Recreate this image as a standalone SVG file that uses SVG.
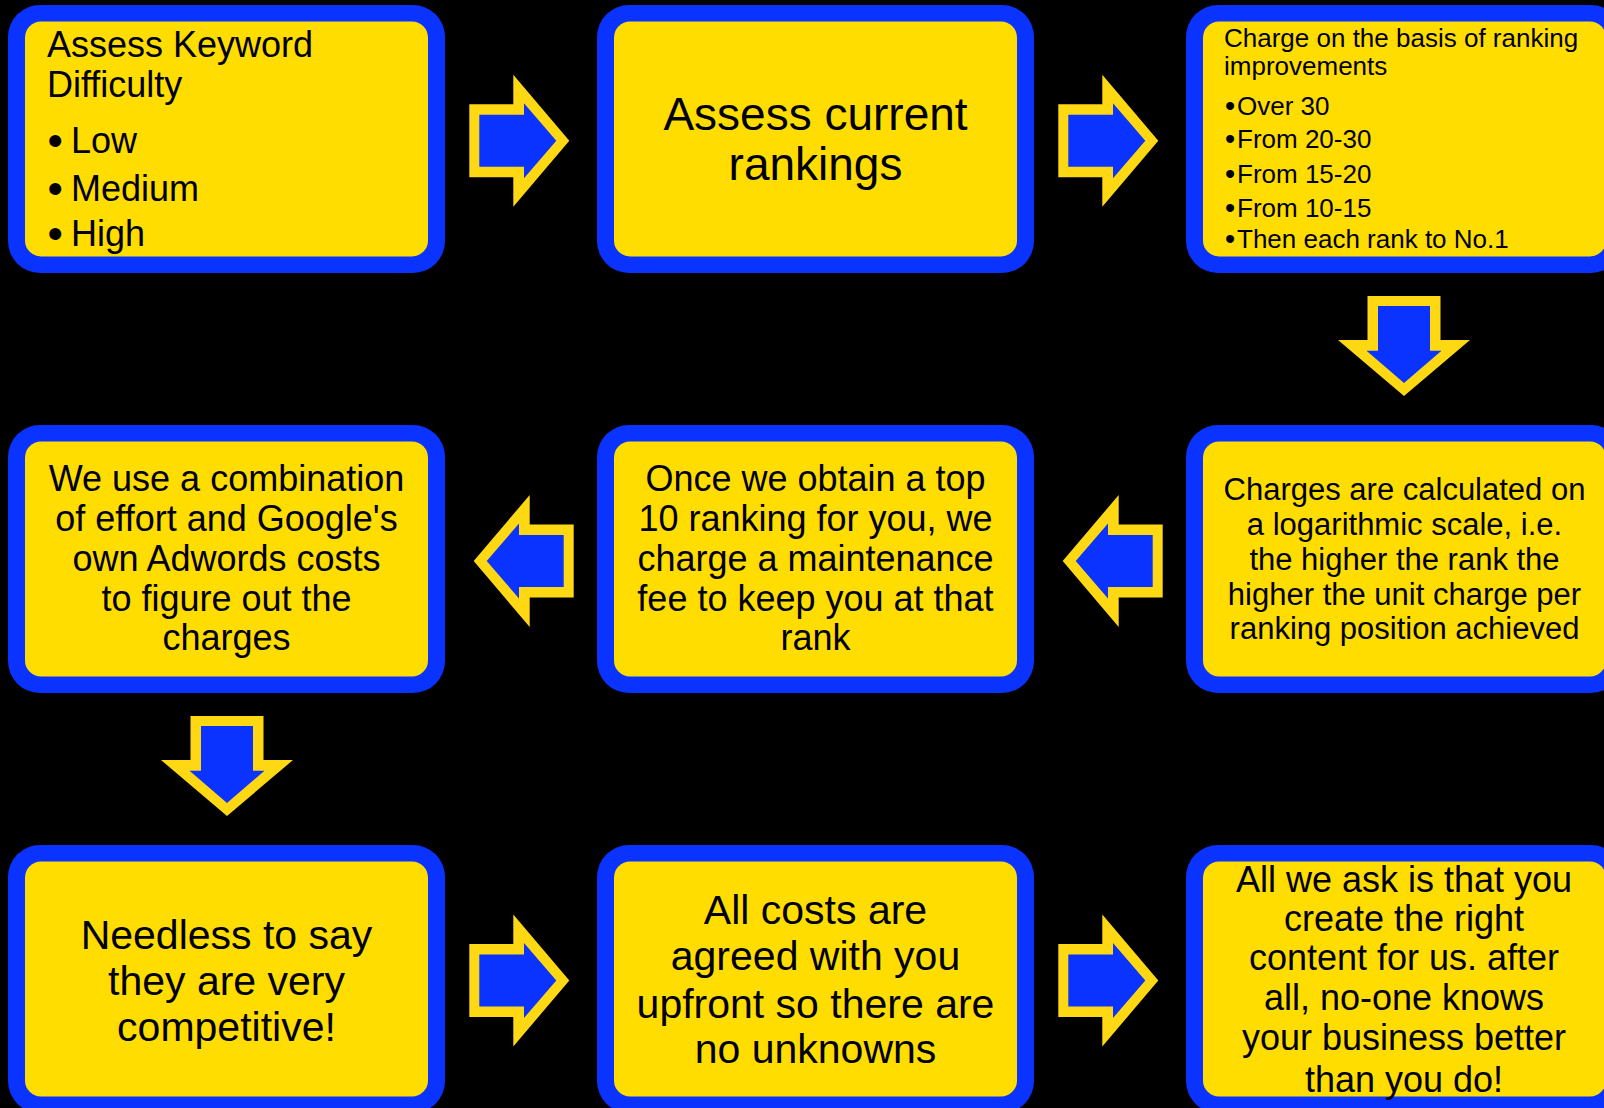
<svg xmlns="http://www.w3.org/2000/svg" xmlns:xlink="http://www.w3.org/1999/xlink" width="1604" height="1108" viewBox="0 0 1604 1108">
<style>
.outer{fill:#0B33FF}
.inner{fill:#FFDD00}
.t{font-family:"Liberation Sans",Arial,Helvetica,sans-serif;fill:#000}
.c{text-anchor:middle}
.ay{fill:#FFD814}
.ab{fill:#0B33FF}
</style>
<defs>
<g id="arrowR">
<polygon class="ay" points="0,-36.5 44,-36.5 44,-66 100,0 44,66 44,36.5 0,36.5"/>
<polygon class="ab" points="10,-26 54.7,-26 54.7,-37.5 87,0 54.7,37.5 54.7,26 10,26"/>
</g>
</defs>
<rect x="0" y="0" width="1604" height="1108" fill="#000"/>

<g id="node-keyword">
<rect class="outer" x="8" y="5" width="437" height="268" rx="32"/>
<rect class="inner" x="25" y="21.5" width="403" height="235" rx="16"/>
<text class="t" x="47" y="57" font-size="36">Assess Keyword</text>
<text class="t" x="47" y="97" font-size="36">Difficulty</text>
<text class="t" x="47.5" y="153" font-size="36"><tspan font-size="44" dy="3">•</tspan><tspan x="71" dy="-3">Low</tspan></text>
<text class="t" x="47.5" y="201" font-size="36"><tspan font-size="44" dy="3">•</tspan><tspan x="71" dy="-3">Medium</tspan></text>
<text class="t" x="47.5" y="246" font-size="36"><tspan font-size="44" dy="3">•</tspan><tspan x="71" dy="-3">High</tspan></text>
</g>

<g id="node-current">
<rect class="outer" x="597" y="5" width="437" height="268" rx="32"/>
<rect class="inner" x="614" y="21.5" width="403" height="235" rx="16"/>
<text class="t c" x="815.5" y="129.5" font-size="46">Assess current</text>
<text class="t c" x="815.5" y="180" font-size="46">rankings</text>
</g>

<g id="node-charge">
<rect class="outer" x="1186" y="5" width="437" height="268" rx="32"/>
<rect class="inner" x="1203" y="21.5" width="403" height="235" rx="16"/>
<text class="t" x="1224" y="47" font-size="26">Charge on the basis of ranking</text>
<text class="t" x="1224" y="75" font-size="26">improvements</text>
<text class="t" x="1225" y="115" font-size="26"><tspan font-size="29" dy="1">•</tspan><tspan x="1237" dy="-1">Over 30</tspan></text>
<text class="t" x="1225" y="147.7" font-size="26"><tspan font-size="29" dy="1">•</tspan><tspan x="1237" dy="-1">From 20-30</tspan></text>
<text class="t" x="1225" y="182.7" font-size="26"><tspan font-size="29" dy="1">•</tspan><tspan x="1237" dy="-1">From 15-20</tspan></text>
<text class="t" x="1225" y="216.7" font-size="26"><tspan font-size="29" dy="1">•</tspan><tspan x="1237" dy="-1">From 10-15</tspan></text>
<text class="t" x="1225" y="248.3" font-size="26"><tspan font-size="29" dy="1">•</tspan><tspan x="1237" dy="-1">Then each rank to No.1</tspan></text>
</g>

<g id="node-logarithmic">
<rect class="outer" x="1186" y="425" width="437" height="268" rx="32"/>
<rect class="inner" x="1203" y="441.5" width="403" height="235" rx="16"/>
<text class="t c" x="1404.5" y="500" font-size="31">Charges are calculated on</text>
<text class="t c" x="1404.5" y="535" font-size="31">a logarithmic scale, i.e.</text>
<text class="t c" x="1404.5" y="570" font-size="31">the higher the rank the</text>
<text class="t c" x="1404.5" y="605" font-size="31">higher the unit charge per</text>
<text class="t c" x="1404.5" y="639" font-size="31">ranking position achieved</text>
</g>

<g id="node-maintenance">
<rect class="outer" x="597" y="425" width="437" height="268" rx="32"/>
<rect class="inner" x="614" y="441.5" width="403" height="235" rx="16"/>
<text class="t c" x="815.5" y="491" font-size="36">Once we obtain a top</text>
<text class="t c" x="815.5" y="531" font-size="36">10 ranking for you, we</text>
<text class="t c" x="815.5" y="571" font-size="36">charge a maintenance</text>
<text class="t c" x="815.5" y="610.5" font-size="36">fee to keep you at that</text>
<text class="t c" x="815.5" y="650" font-size="36">rank</text>
</g>

<g id="node-combination">
<rect class="outer" x="8" y="425" width="437" height="268" rx="32"/>
<rect class="inner" x="25" y="441.5" width="403" height="235" rx="16"/>
<text class="t c" x="226.5" y="491" font-size="36">We use a combination</text>
<text class="t c" x="226.5" y="531" font-size="36">of effort and Google's</text>
<text class="t c" x="226.5" y="571" font-size="36">own Adwords costs</text>
<text class="t c" x="226.5" y="610.5" font-size="36">to figure out the</text>
<text class="t c" x="226.5" y="650" font-size="36">charges</text>
</g>

<g id="node-competitive">
<rect class="outer" x="8" y="845" width="437" height="268" rx="32"/>
<rect class="inner" x="25" y="861.5" width="403" height="235" rx="16"/>
<text class="t c" x="226.5" y="949" font-size="41">Needless to say</text>
<text class="t c" x="226.5" y="994.5" font-size="41">they are very</text>
<text class="t c" x="226.5" y="1040.5" font-size="41">competitive!</text>
</g>

<g id="node-costs">
<rect class="outer" x="597" y="845" width="437" height="268" rx="32"/>
<rect class="inner" x="614" y="861.5" width="403" height="235" rx="16"/>
<text class="t c" x="815.5" y="924.3" font-size="41">All costs are</text>
<text class="t c" x="815.5" y="970.3" font-size="41">agreed with you</text>
<text class="t c" x="815.5" y="1017.5" font-size="41">upfront so there are</text>
<text class="t c" x="815.5" y="1063.3" font-size="41">no unknowns</text>
</g>

<g id="node-content">
<rect class="outer" x="1186" y="845" width="437" height="268" rx="32"/>
<rect class="inner" x="1203" y="861.5" width="403" height="235" rx="16"/>
<text class="t c" x="1404" y="891.7" font-size="36">All we ask is that you</text>
<text class="t c" x="1404" y="930.5" font-size="36">create the right</text>
<text class="t c" x="1404" y="970" font-size="36">content for us. after</text>
<text class="t c" x="1404" y="1010" font-size="36">all, no-one knows</text>
<text class="t c" x="1404" y="1050" font-size="36">your business better</text>
<text class="t c" x="1404" y="1091.5" font-size="36">than you do!</text>
</g>

<g id="connectors">
<use xlink:href="#arrowR" href="#arrowR" transform="translate(469.3,140.7)"/>
<use xlink:href="#arrowR" href="#arrowR" transform="translate(1058.3,140.7)"/>
<use xlink:href="#arrowR" href="#arrowR" transform="translate(1404,296) rotate(90)"/>
<use xlink:href="#arrowR" href="#arrowR" transform="translate(1162.7,561) scale(-1,1)"/>
<use xlink:href="#arrowR" href="#arrowR" transform="translate(573.7,561) scale(-1,1)"/>
<use xlink:href="#arrowR" href="#arrowR" transform="translate(227,716) rotate(90)"/>
<use xlink:href="#arrowR" href="#arrowR" transform="translate(469.3,980.5)"/>
<use xlink:href="#arrowR" href="#arrowR" transform="translate(1058.3,980.5)"/>
</g>
</svg>
